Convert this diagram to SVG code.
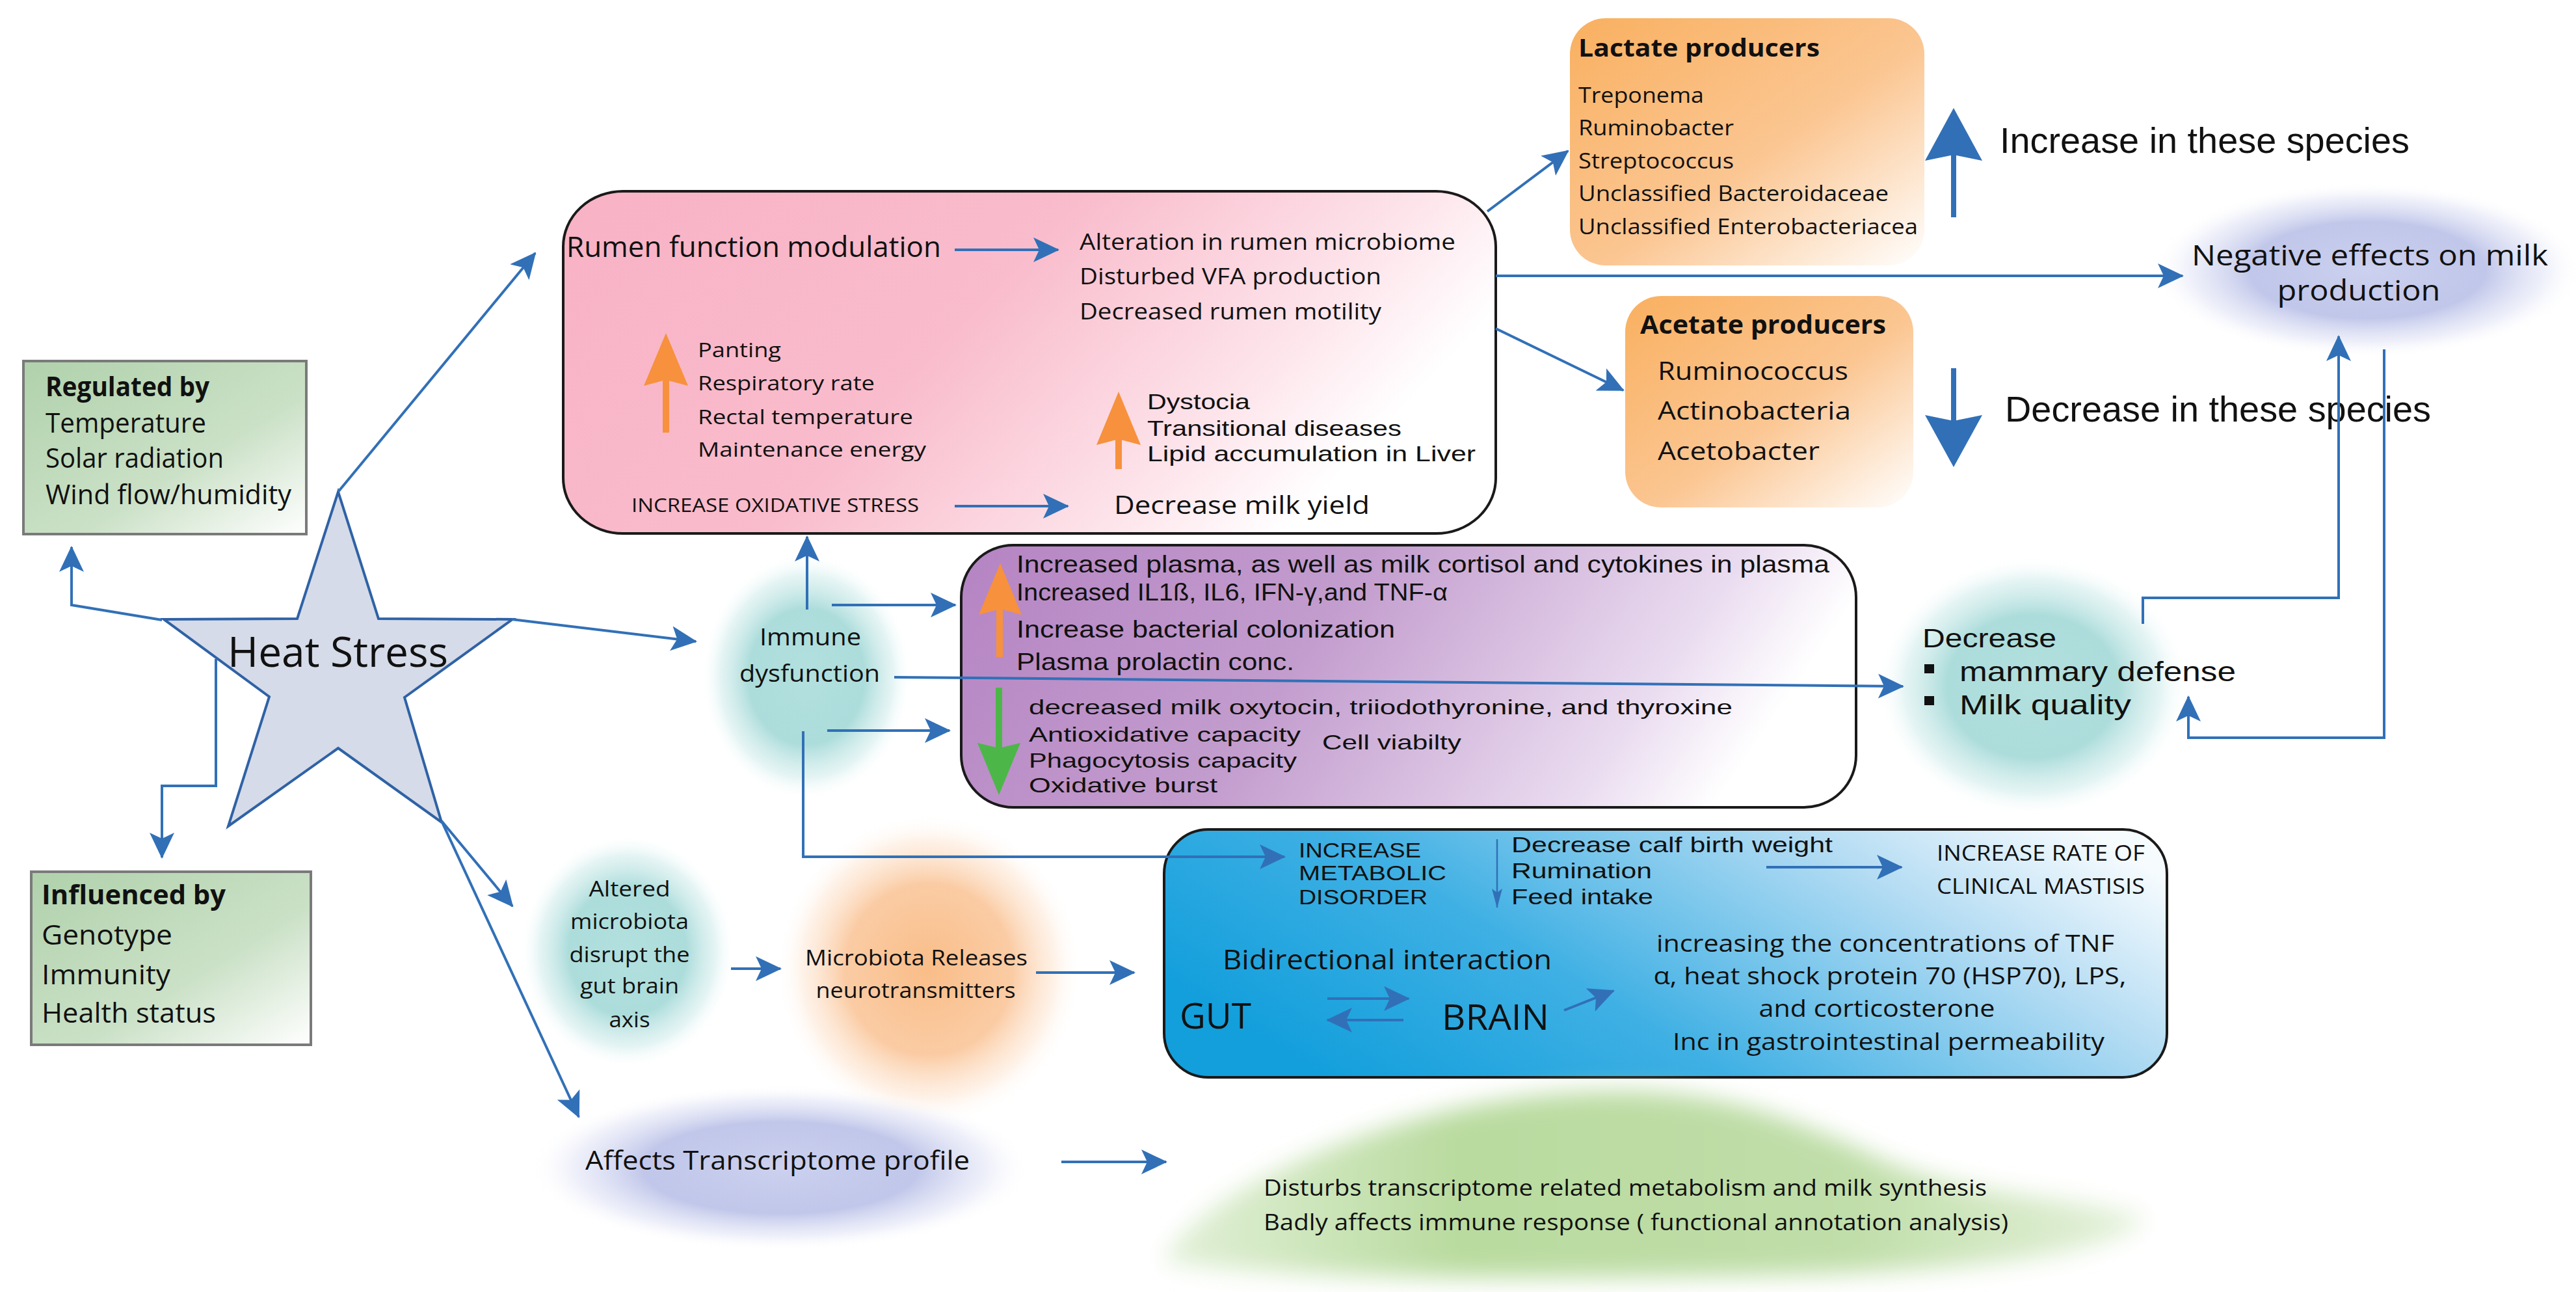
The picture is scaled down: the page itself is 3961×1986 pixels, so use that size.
<svg xmlns="http://www.w3.org/2000/svg" width="3961" height="1986" viewBox="0 0 3961 1986">
<defs>
<style>
.t{font-family:"Open Sans","Liberation Sans",sans-serif;fill:#111}
.a{font-family:"Liberation Sans",Arial,sans-serif;fill:#111}
.b{font-weight:bold}
.m{text-anchor:middle}
.c{stroke:#3170b7;stroke-width:4;fill:none;marker-end:url(#ah)}
.bl{fill:#3170b7}
</style>
<marker id="ah" viewBox="0 0 40 40" refX="38" refY="20" markerWidth="40" markerHeight="40" markerUnits="userSpaceOnUse" orient="auto"><path d="M0,1 L40,20 L0,39 L9,20 z" fill="#3170b7"/></marker>
<marker id="sm" viewBox="0 0 30 16" refX="29" refY="8" markerWidth="30" markerHeight="16" markerUnits="userSpaceOnUse" orient="auto"><path d="M0,0 L30,8 L0,16 L6,8 z" fill="#3170b7"/></marker>
<linearGradient id="gGreen" x1="0" y1="0" x2="1" y2="1"><stop offset="0" stop-color="#b0d1ab"/><stop offset="0.6" stop-color="#cbe1c7"/><stop offset="1" stop-color="#ffffff"/></linearGradient>
<linearGradient id="gPink" x1="0" y1="0" x2="1" y2="0.35"><stop offset="0" stop-color="#f8b2c5"/><stop offset="0.5" stop-color="#f9bccc"/><stop offset="0.82" stop-color="#fde3ea"/><stop offset="1" stop-color="#ffffff"/></linearGradient>
<linearGradient id="gPurple" x1="0" y1="0" x2="1" y2="0.2"><stop offset="0" stop-color="#b584c3"/><stop offset="0.45" stop-color="#c39dce"/><stop offset="0.85" stop-color="#eadcf0"/><stop offset="1" stop-color="#ffffff"/></linearGradient>
<linearGradient id="gBlue" x1="0" y1="0.6" x2="1" y2="0.2"><stop offset="0" stop-color="#139fdc"/><stop offset="0.35" stop-color="#3fb0e4"/><stop offset="0.75" stop-color="#b4dcf3"/><stop offset="1" stop-color="#f6fbfe"/></linearGradient>
<linearGradient id="gOrange" x1="0" y1="0" x2="1" y2="1"><stop offset="0" stop-color="#f9b060"/><stop offset="0.55" stop-color="#fbc692"/><stop offset="1" stop-color="#ffffff"/></linearGradient>
<radialGradient id="gTeal"><stop offset="0" stop-color="#b2e0df"/><stop offset="0.55" stop-color="#a3d9d7" stop-opacity="0.9"/><stop offset="0.82" stop-color="#c4e7e6" stop-opacity="0.45"/><stop offset="1" stop-color="#ffffff" stop-opacity="0"/></radialGradient>
<radialGradient id="gLav"><stop offset="0" stop-color="#ccd1ef"/><stop offset="0.55" stop-color="#b6bde6" stop-opacity="0.85"/><stop offset="0.82" stop-color="#d3d7f1" stop-opacity="0.4"/><stop offset="1" stop-color="#ffffff" stop-opacity="0"/></radialGradient>
<radialGradient id="gOr"><stop offset="0" stop-color="#f9bd88"/><stop offset="0.55" stop-color="#fac69a" stop-opacity="0.9"/><stop offset="0.82" stop-color="#fde0c8" stop-opacity="0.45"/><stop offset="1" stop-color="#ffffff" stop-opacity="0"/></radialGradient>
<linearGradient id="gHill" x1="0" y1="0" x2="1" y2="0"><stop offset="0" stop-color="#e2f0d8"/><stop offset="0.3" stop-color="#b9db9f"/><stop offset="0.7" stop-color="#c0dea9"/><stop offset="1" stop-color="#e6f2dd"/></linearGradient>
<filter id="soft" x="-20%" y="-40%" width="140%" height="180%"><feGaussianBlur stdDeviation="18"/></filter>
</defs>
<rect width="3961" height="1986" fill="#ffffff"/>

<g id="regulated">
<rect x="36" y="555" width="435" height="266" fill="url(#gGreen)" stroke="#7a7a7a" stroke-width="4"/>
<text class="t b" x="70" y="609" font-size="42" textLength="252" lengthAdjust="spacingAndGlyphs">Regulated by</text>
<text class="t" x="70" y="665" font-size="42" textLength="247" lengthAdjust="spacingAndGlyphs">Temperature</text>
<text class="t" x="70" y="719" font-size="42" textLength="274" lengthAdjust="spacingAndGlyphs">Solar radiation</text>
<text class="t" x="70" y="775" font-size="42" textLength="378" lengthAdjust="spacingAndGlyphs">Wind flow/humidity</text>
</g>

<g id="influenced">
<rect x="48" y="1340" width="430" height="266" fill="url(#gGreen)" stroke="#7a7a7a" stroke-width="4"/>
<text class="t b" x="64" y="1390" font-size="42" textLength="283" lengthAdjust="spacingAndGlyphs">Influenced by</text>
<text class="t" x="64" y="1452" font-size="42" textLength="201" lengthAdjust="spacingAndGlyphs">Genotype</text>
<text class="t" x="64" y="1513" font-size="42" textLength="198" lengthAdjust="spacingAndGlyphs">Immunity</text>
<text class="t" x="64" y="1572" font-size="42" textLength="268" lengthAdjust="spacingAndGlyphs">Health status</text>
</g>

<g id="heat-stress">
<polygon points="520,756 582,951 788,952 622,1072 679,1264 520,1150 351,1270 414,1071 252,952 457,951" fill="#d5dbe8" stroke="#2f62a6" stroke-width="4" stroke-linejoin="miter"/>
<text class="t" x="350" y="1025" font-size="64" textLength="339" lengthAdjust="spacingAndGlyphs">Heat Stress</text>
</g>

<g id="rumen">
<rect x="866" y="294" width="1434" height="526" rx="92" ry="85" fill="url(#gPink)" stroke="#1a1a1a" stroke-width="4"/>
<text class="t" x="871" y="395" font-size="44" textLength="576" lengthAdjust="spacingAndGlyphs">Rumen function modulation</text>
<text class="t" x="1660" y="384" font-size="35" textLength="578" lengthAdjust="spacingAndGlyphs">Alteration in rumen microbiome</text>
<text class="t" x="1660" y="437" font-size="35" textLength="464" lengthAdjust="spacingAndGlyphs">Disturbed VFA production</text>
<text class="t" x="1660" y="491" font-size="35" textLength="464" lengthAdjust="spacingAndGlyphs">Decreased rumen motility</text>
<rect x="1019" y="583" width="10" height="82" fill="#f7913d"/>
<polygon points="1024,512 1058,593 1024,584 990,593" fill="#f7913d"/>
<text class="t" x="1073" y="549" font-size="31" textLength="128" lengthAdjust="spacingAndGlyphs">Panting</text>
<text class="t" x="1073" y="600" font-size="31" textLength="272" lengthAdjust="spacingAndGlyphs">Respiratory rate</text>
<text class="t" x="1073" y="652" font-size="31" textLength="331" lengthAdjust="spacingAndGlyphs">Rectal temperature</text>
<text class="t" x="1073" y="702" font-size="31" textLength="351" lengthAdjust="spacingAndGlyphs">Maintenance energy</text>
<rect x="1715" y="675" width="10" height="46" fill="#f7913d"/>
<polygon points="1720,602 1754,684 1720,675 1686,684" fill="#f7913d"/>
<text class="a" x="1764" y="629" font-size="33" textLength="158" lengthAdjust="spacingAndGlyphs">Dystocia</text>
<text class="a" x="1764" y="670" font-size="33" textLength="391" lengthAdjust="spacingAndGlyphs">Transitional diseases</text>
<text class="a" x="1764" y="709" font-size="33" textLength="505" lengthAdjust="spacingAndGlyphs">Lipid accumulation in Liver</text>
<text class="t" x="971" y="787" font-size="29" textLength="442" lengthAdjust="spacingAndGlyphs">INCREASE OXIDATIVE STRESS</text>
<text class="t" x="1713" y="790" font-size="38" textLength="393" lengthAdjust="spacingAndGlyphs">Decrease milk yield</text>
</g>

<g id="lactate">
<rect x="2414" y="28" width="545" height="380" rx="55" fill="url(#gOrange)"/>
<text class="t b" x="2427" y="87" font-size="38" textLength="371" lengthAdjust="spacingAndGlyphs">Lactate producers</text>
<text class="t" x="2427" y="158" font-size="33" textLength="193" lengthAdjust="spacingAndGlyphs">Treponema</text>
<text class="t" x="2427" y="208" font-size="33" textLength="239" lengthAdjust="spacingAndGlyphs">Ruminobacter</text>
<text class="t" x="2427" y="259" font-size="33" textLength="239" lengthAdjust="spacingAndGlyphs">Streptococcus</text>
<text class="t" x="2427" y="309" font-size="33" textLength="477" lengthAdjust="spacingAndGlyphs">Unclassified Bacteroidaceae</text>
<text class="t" x="2427" y="360" font-size="33" textLength="522" lengthAdjust="spacingAndGlyphs">Unclassified Enterobacteriacea</text>
</g>

<g id="increase-species">
<rect x="3000" y="237" width="8" height="97" class="bl"/>
<polygon points="3004,166 3048,247 3004,238 2960,247" class="bl"/>
<text class="a" x="3075" y="235" font-size="56" textLength="630" lengthAdjust="spacingAndGlyphs">Increase in these species</text>
</g>

<g id="acetate">
<rect x="2499" y="455" width="443" height="325" rx="55" fill="url(#gOrange)"/>
<text class="t b" x="2522" y="513" font-size="39" textLength="378" lengthAdjust="spacingAndGlyphs">Acetate producers</text>
<text class="t" x="2549" y="584" font-size="38" textLength="293" lengthAdjust="spacingAndGlyphs">Ruminococcus</text>
<text class="t" x="2549" y="645" font-size="38" textLength="297" lengthAdjust="spacingAndGlyphs">Actinobacteria</text>
<text class="t" x="2549" y="707" font-size="38" textLength="249" lengthAdjust="spacingAndGlyphs">Acetobacter</text>
</g>

<g id="decrease-species">
<rect x="3000" y="566" width="8" height="81" class="bl"/>
<polygon points="3004,718 3048,638 3004,647 2960,638" class="bl"/>
<text class="a" x="3083" y="648" font-size="56" textLength="655" lengthAdjust="spacingAndGlyphs">Decrease in these species</text>
</g>

<g id="negative-effects">
<ellipse cx="3640" cy="415" rx="330" ry="135" fill="url(#gLav)"/>
<text class="t m" x="3644" y="408" font-size="44" textLength="548" lengthAdjust="spacingAndGlyphs">Negative effects on milk</text>
<text class="t m" x="3627" y="462" font-size="44" textLength="251" lengthAdjust="spacingAndGlyphs">production</text>
</g>

<g id="immune">
<ellipse cx="1240" cy="1040" rx="162" ry="190" fill="url(#gTeal)"/>
<text class="t m" x="1246" y="992" font-size="36" textLength="156" lengthAdjust="spacingAndGlyphs">Immune</text>
<text class="t m" x="1245" y="1048" font-size="36" textLength="216" lengthAdjust="spacingAndGlyphs">dysfunction</text>
</g>

<g id="immune-effects">
<rect x="1478" y="838" width="1376" height="403" rx="80" fill="url(#gPurple)" stroke="#1a1a1a" stroke-width="4"/>
<rect x="1532" y="936" width="10" height="74" fill="#f7913d"/>
<polygon points="1538,866 1571,945 1538,936 1505,945" fill="#f7913d"/>
<rect x="1531" y="1057" width="10" height="94" fill="#4cb748"/>
<polygon points="1536,1222 1569,1142 1536,1150 1503,1142" fill="#4cb748"/>
<text class="a" x="1563" y="880" font-size="36" textLength="1250" lengthAdjust="spacingAndGlyphs">Increased plasma, as well as milk cortisol and cytokines in plasma</text>
<text class="a" x="1563" y="923" font-size="36" textLength="663" lengthAdjust="spacingAndGlyphs">Increased IL1ß, IL6, IFN-γ,and TNF-α</text>
<text class="a" x="1563" y="980" font-size="36" textLength="582" lengthAdjust="spacingAndGlyphs">Increase bacterial colonization</text>
<text class="a" x="1563" y="1030" font-size="36" textLength="427" lengthAdjust="spacingAndGlyphs">Plasma prolactin conc.</text>
<text class="a" x="1582" y="1098" font-size="32" textLength="1082" lengthAdjust="spacingAndGlyphs">decreased milk oxytocin, triiodothyronine, and thyroxine</text>
<text class="a" x="1582" y="1140" font-size="32" textLength="418" lengthAdjust="spacingAndGlyphs">Antioxidative capacity</text>
<text class="a" x="2033" y="1152" font-size="32" textLength="214" lengthAdjust="spacingAndGlyphs">Cell viabilty</text>
<text class="a" x="1582" y="1180" font-size="32" textLength="412" lengthAdjust="spacingAndGlyphs">Phagocytosis capacity</text>
<text class="a" x="1582" y="1218" font-size="32" textLength="290" lengthAdjust="spacingAndGlyphs">Oxidative burst</text>
</g>

<g id="decrease-defense">
<ellipse cx="3126" cy="1055" rx="240" ry="200" fill="url(#gTeal)"/>
<text class="a" x="2956" y="995" font-size="40" textLength="206" lengthAdjust="spacingAndGlyphs">Decrease</text>
<rect x="2959" y="1021" width="15" height="14" fill="#111"/>
<text class="a" x="3013" y="1047" font-size="43" textLength="425" lengthAdjust="spacingAndGlyphs">mammary defense</text>
<rect x="2959" y="1070" width="15" height="14" fill="#111"/>
<text class="a" x="3013" y="1098" font-size="43" textLength="264" lengthAdjust="spacingAndGlyphs">Milk quality</text>
</g>

<g id="altered-microbiota">
<ellipse cx="965" cy="1462" rx="165" ry="180" fill="url(#gTeal)"/>
<text class="t m" x="968" y="1378" font-size="32" textLength="125" lengthAdjust="spacingAndGlyphs">Altered</text>
<text class="t m" x="968" y="1428" font-size="32" textLength="182" lengthAdjust="spacingAndGlyphs">microbiota</text>
<text class="t m" x="968" y="1479" font-size="32" textLength="185" lengthAdjust="spacingAndGlyphs">disrupt the</text>
<text class="t m" x="968" y="1527" font-size="32" textLength="152" lengthAdjust="spacingAndGlyphs">gut brain</text>
<text class="t m" x="968" y="1579" font-size="32" textLength="63" lengthAdjust="spacingAndGlyphs">axis</text>
</g>

<g id="microbiota-releases">
<ellipse cx="1428" cy="1490" rx="235" ry="240" fill="url(#gOr)"/>
<text class="t m" x="1409" y="1484" font-size="32" textLength="342" lengthAdjust="spacingAndGlyphs">Microbiota Releases</text>
<text class="t m" x="1408" y="1534" font-size="32" textLength="307" lengthAdjust="spacingAndGlyphs">neurotransmitters</text>
</g>

<g id="transcriptome">
<ellipse cx="1200" cy="1795" rx="385" ry="128" fill="url(#gLav)"/>
<text class="t" x="900" y="1798" font-size="40" textLength="591" lengthAdjust="spacingAndGlyphs">Affects Transcriptome profile</text>
</g>

<g id="gut-brain">
<rect x="1790" y="1275" width="1542" height="381" rx="68" fill="url(#gBlue)" stroke="#1a1a1a" stroke-width="4"/>
<text class="a" x="1997" y="1318" font-size="31" textLength="188" lengthAdjust="spacingAndGlyphs">INCREASE</text>
<text class="a" x="1997" y="1353" font-size="31" textLength="227" lengthAdjust="spacingAndGlyphs">METABOLIC</text>
<text class="a" x="1997" y="1390" font-size="31" textLength="198" lengthAdjust="spacingAndGlyphs">DISORDER</text>
<text class="a" x="2324" y="1310" font-size="33" textLength="494" lengthAdjust="spacingAndGlyphs">Decrease calf birth weight</text>
<text class="a" x="2324" y="1350" font-size="33" textLength="216" lengthAdjust="spacingAndGlyphs">Rumination</text>
<text class="a" x="2324" y="1390" font-size="33" textLength="218" lengthAdjust="spacingAndGlyphs">Feed intake</text>
<text class="t" x="2978" y="1323" font-size="33" textLength="320" lengthAdjust="spacingAndGlyphs">INCREASE RATE OF</text>
<text class="t" x="2978" y="1374" font-size="33" textLength="320" lengthAdjust="spacingAndGlyphs">CLINICAL MASTISIS</text>
<text class="t" x="1880" y="1490" font-size="42" textLength="506" lengthAdjust="spacingAndGlyphs">Bidirectional interaction</text>
<text class="t" x="1814" y="1581" font-size="54" textLength="110" lengthAdjust="spacingAndGlyphs">GUT</text>
<text class="t" x="2217" y="1583" font-size="54" textLength="165" lengthAdjust="spacingAndGlyphs">BRAIN</text>
<text class="t m" x="2899" y="1463" font-size="37" textLength="704" lengthAdjust="spacingAndGlyphs">increasing the concentrations of TNF</text>
<text class="t m" x="2906" y="1513" font-size="37" textLength="727" lengthAdjust="spacingAndGlyphs">α, heat shock protein 70 (HSP70), LPS,</text>
<text class="t m" x="2886" y="1563" font-size="37" textLength="363" lengthAdjust="spacingAndGlyphs">and corticosterone</text>
<text class="t m" x="2904" y="1614" font-size="37" textLength="664" lengthAdjust="spacingAndGlyphs">Inc in gastrointestinal permeability</text>
</g>

<g id="transcriptome-effects">
<path d="M1790,1940 C1820,1850 2120,1690 2450,1678 C2640,1670 2760,1720 2900,1785 C3040,1845 3190,1835 3300,1872 C3250,1935 3000,1958 2600,1962 C2300,1965 2000,1966 1790,1940 Z" fill="url(#gHill)" filter="url(#soft)"/>
<text class="t" x="1943" y="1838" font-size="35" textLength="1112" lengthAdjust="spacingAndGlyphs">Disturbs transcriptome related metabolism and milk synthesis</text>
<text class="t" x="1943" y="1891" font-size="35" textLength="1145" lengthAdjust="spacingAndGlyphs">Badly affects immune response ( functional annotation analysis)</text>
</g>

<g id="connectors">
<path class="c" d="M520,756 L823,389"/>
<path class="c" d="M249,953 L110,930 L110,841"/>
<path class="c" d="M332,1013 L332,1208 L249,1208 L249,1318"/>
<path class="c" d="M787,952 L1070,986"/>
<path class="c" d="M679,1262 L788,1393"/>
<path class="c" d="M679,1262 L890,1717"/>
<path class="c" d="M1468,384 L1627,384"/>
<path class="c" d="M1468,778 L1642,778"/>
<path class="c" d="M2287,325 L2411,232"/>
<path class="c" d="M2300,505 L2496,600"/>
<path class="c" d="M2300,424 L3356,424"/>
<path class="c" d="M1241,937 L1241,825"/>
<path class="c" d="M1279,930 L1469,930"/>
<path class="c" d="M1272,1123 L1460,1123"/>
<path class="c" d="M1375,1041 L2926,1055"/>
<path class="c" d="M1235,1124 L1235,1317 L1975,1317"/>
<path class="c" d="M3295,959 L3295,919 L3596,919 L3596,517"/>
<path class="c" d="M3666,537 L3666,1134 L3365,1134 L3365,1071"/>
<path class="c" d="M1124,1489 L1200,1489"/>
<path class="c" d="M1593,1495 L1744,1495"/>
<path class="c" d="M1632,1786 L1793,1786"/>
<path class="c" d="M2716,1333 L2924,1333"/>
<path class="c" d="M2041,1535 L2166,1535"/>
<path class="c" d="M2158,1568 L2041,1568"/>
<path class="c" d="M2405,1553 L2481,1523"/>
<path d="M2302,1290 L2302,1395" stroke="#3170b7" stroke-width="2.5" fill="none" marker-end="url(#sm)"/>
</g>
</svg>
